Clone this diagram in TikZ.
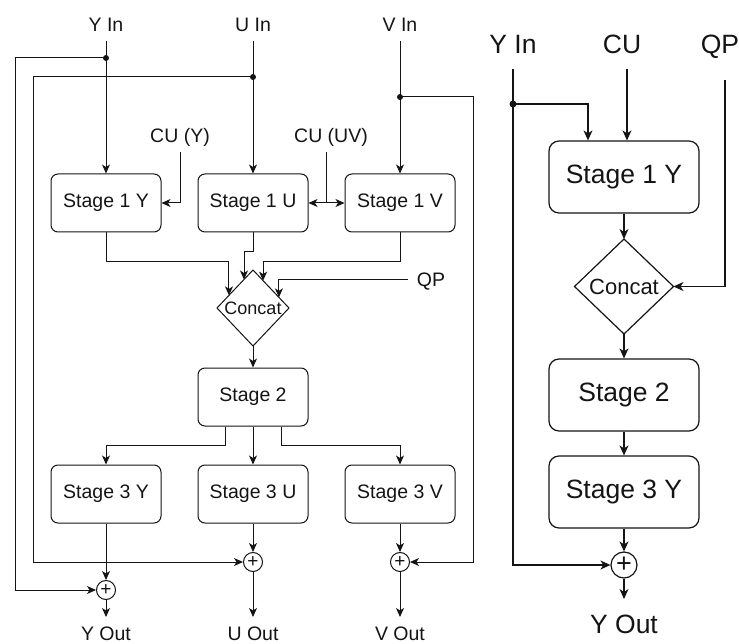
\documentclass[tikz,border=0pt]{standalone}
\usepackage{fontspec}
\setmainfont{Liberation Sans}
\usetikzlibrary{arrows.meta,shapes.geometric,calc}
\definecolor{ink}{HTML}{141414}
\begin{document}
\begin{tikzpicture}[x=1pt,y=-1pt, line width=1pt, color=ink,
  >={Stealth[length=9pt,width=8pt,inset=2.5pt]},
  box/.style={draw, rounded corners=7pt, minimum width=110pt, minimum height=58pt,
    inner sep=0pt, font=\fontsize{19.5}{23}\selectfont},
  rbox/.style={draw, rounded corners=10pt, minimum width=150pt, minimum height=72pt,
    inner sep=0pt, font=\fontsize{26.5}{31}\selectfont},
  lbl/.style={inner sep=0pt, text height=14pt, text depth=0pt, outer sep=9pt,
    font=\fontsize{19.5}{23}\selectfont},
  rlbl/.style={inner sep=0pt, text height=19pt, text depth=0pt, outer sep=15pt,
    font=\fontsize{26.5}{31}\selectfont},
  sumnode/.style={draw, circle, inner sep=0pt, minimum size=19pt, font=\fontsize{19}{20}\selectfont},
  rsumnode/.style={draw, circle, inner sep=0pt, minimum size=26pt, font=\fontsize{27}{28}\selectfont},
  jdot/.style={circle, fill=ink, inner sep=0pt, minimum size=6pt},
  gate/.style={draw, diamond, inner sep=0pt, outer sep=0pt, minimum width=72pt, minimum height=76pt},
  rgate/.style={draw, diamond, inner sep=0pt, outer sep=0pt, minimum width=99pt, minimum height=95pt},
]
\useasboundingbox (0,0) rectangle (739,644);

% ---------------- three-channel pipeline ----------------
\node[lbl] (yin) at (106,25) {Y In};
\node[lbl] (uin) at (253,25) {U In};
\node[lbl] (vin) at (400,25) {V In};
\node[lbl] (cuy) at (180,136) {CU (Y)};
\node[lbl] (cuuv) at (331,136) {CU (UV)};
\node[lbl] (qp) at (431,280) {QP};

\node[box] (s1y) at (106,203) {Stage 1 Y};
\node[box] (s1u) at (253,203) {Stage 1 U};
\node[box] (s1v) at (400,203) {Stage 1 V};

\node[gate] (cc) at (253,308) {};
\node[inner sep=0pt, font=\fontsize{18}{21}\selectfont] (cctxt) at (cc) {Concat};

\node[box] (s2) at (253,397) {Stage 2};

\node[box] (s3y) at (106,494) {Stage 3 Y};
\node[box] (s3u) at (253,494) {Stage 3 U};
\node[box] (s3v) at (400,494) {Stage 3 V};

\node[sumnode] (py) at (106,590) {+};
\node[sumnode] (pu) at (253,562) {+};
\node[sumnode] (pv) at (400,562) {+};

\node[lbl] (yout) at (106,633) {Y Out};
\node[lbl] (uout) at (253,633) {U Out};
\node[lbl] (vout) at (400,633) {V Out};

% branch points of the skip connections
\coordinate (yj) at (106,58);
\coordinate (uj) at (253,77);
\coordinate (vj) at (400,97);
\coordinate (yl) at (15,58);
\coordinate (ul) at (33,77);
\coordinate (vr) at (473,97);

% inputs into stage 1
\draw[->] (yin.south) -- (s1y.north);
\draw[->] (uin.south) -- (s1u.north);
\draw[->] (vin.south) -- (s1v.north);
\node[jdot] at (yj) {};
\node[jdot] at (uj) {};
\node[jdot] at (vj) {};

% skip connections to the adders
\draw[->] (yj) -- (yl) |- (py.west);
\draw[->] (uj) -- (ul) |- (pu.west);
\draw[->] (vj) -- (vr) |- (pv.east);

% coding-unit side inputs
\draw[->] (cuy.south) |- (s1y.east);
\coordinate (uvj) at ($(s1u.east)!0.5!(s1v.west)$);
\draw (uvj |- cuuv.south) -- (uvj);
\draw[->] (uvj) -- (s1u.east);
\draw[->] (uvj) -- (s1v.west);

% stage 1 into concatenation
\coordinate (ty) at ($(cc.north)!0.667!(cc.west)$);
\coordinate (tu) at ($(cc.north)!0.25!(cc.west)$);
\coordinate (tv) at ($(cc.north)!0.28!(cc.east)$);
\coordinate (tq) at ($(cc.north)!0.72!(cc.east)$);
\draw[->] (s1y.south) -- ++(0,29) -| (ty);
\draw[->] (s1u.south) -- ++(0,19) -| (tu);
\draw[->] (s1v.south) -- ++(0,29) -| (tv);
\draw[->] (qp.west) -| (tq);

\draw[->] (cc.south) -- (s2.north);

% stage 2 fan-out
\draw[->] ([xshift=-28pt]s2.south) -- ++(0,19) -| (s3y.north);
\draw[->] (s2.south) -- (s3u.north);
\draw[->] ([xshift=28pt]s2.south) -- ++(0,19) -| (s3v.north);

% stage 3 into adders and outputs
\draw[->] (s3y.south) -- (py.north);
\draw[->] (s3u.south) -- (pu.north);
\draw[->] (s3v.south) -- (pv.north);
\draw[->] (py.south) -- (yout.north);
\draw[->] (pu.south) -- (uout.north);
\draw[->] (pv.south) -- (vout.north);

% ---------------- single-channel pipeline ----------------
\begin{scope}[line width=1.2pt, >={Stealth[length=10pt,width=9pt,inset=3pt]}]
\node[rlbl] (ryin) at (513,44.5) {Y In};
\node[rlbl] (rcu) at (622,44.5) {CU};
\node[rlbl] (rqp) at (720,44.5) {QP};

\node[rbox] (r1) at (624,177) {Stage 1 Y};
\node[rgate] (rc) at (624,286.5) {};
\node[inner sep=0pt, font=\fontsize{22}{26}\selectfont] (rctxt) at (rc) {Concat};
\node[rbox] (r2) at (624,395) {Stage 2};
\node[rbox] (r3) at (624,492) {Stage 3 Y};
\node[rsumnode] (rp) at (624,565) {+};
\node[rlbl] (ryout) at (624,623.5) {Y Out};

\coordinate (ryj) at (513,104);
\draw[->] (ryin.south) |- (rp.west);
\node[jdot, minimum size=7pt] at (ryj) {};
\draw[->] (ryj) -| ([xshift=-36pt]r1.north);
\draw[->] ([xshift=5pt]rcu.south) -- ([xshift=5pt]rcu.south |- r1.north);
\draw[->] ([xshift=5pt,yshift=-11pt]rqp.south) |- (rc.east);

\draw[->] (r1.south) -- (rc.north);
\draw[->] (rc.south) -- (r2.north);
\draw[->] (r2.south) -- (r3.north);
\draw[->] (r3.south) -- (rp.north);
\draw[->] (rp.south) -- (ryout.north);
\end{scope}
\end{tikzpicture}
\end{document}
